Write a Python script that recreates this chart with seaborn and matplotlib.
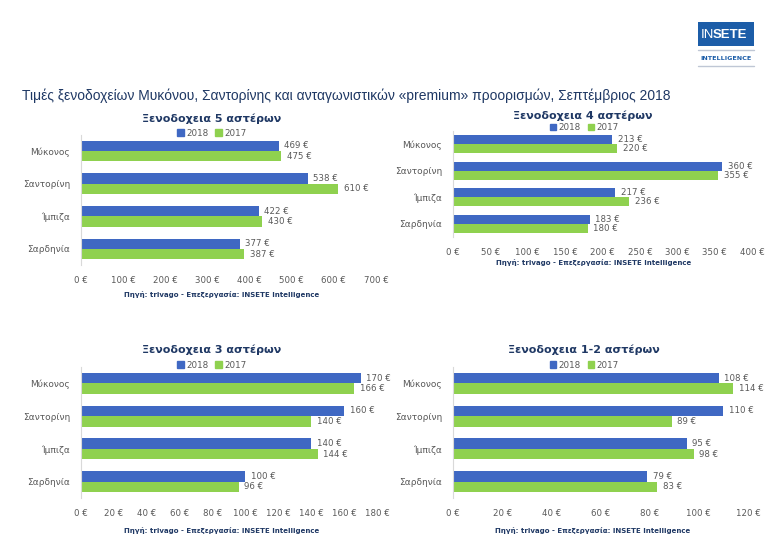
import matplotlib
matplotlib.use("Agg")
import matplotlib.pyplot as plt
import matplotlib.patches as mpatches
from matplotlib.lines import Line2D
from matplotlib.ticker import FuncFormatter
import seaborn as sns
import pandas as pd

sns.set_theme(style="white")
plt.rcParams['font.family'] = ['DejaVu Sans']

places = ["Μύκονος", "Σαντορίνη", "Ίμπιζα", "Σαρδηνία"]
years = ["2018", "2017"]

five_2018 = [469, 538, 422, 377]
five_2017 = [475, 610, 430, 387]
four_2018 = [213, 360, 217, 183]
four_2017 = [220, 355, 236, 180]
three_2018 = [170, 160, 140, 100]
three_2017 = [166, 140, 144, 96]
onetwo_2018 = [108, 110, 95, 79]
onetwo_2017 = [114, 89, 98, 83]

titles = ["Ξενοδοχεια 5 αστέρων", "Ξενοδοχεια 4 αστέρων",
          "Ξενοδοχεια 3 αστέρων", "Ξενοδοχεια 1-2 αστέρων"]
xticks_list = [list(range(0, 701, 100)), list(range(0, 401, 50)),
               list(range(0, 181, 20)), list(range(0, 121, 20))]
source = "Πηγή: trivago - Επεξεργασία: INSETE Intelligence"
main_title = "Τιμές ξενοδοχείων Μυκόνου, Σαντορίνης και ανταγωνιστικών «premium» προορισμών, Σεπτέμβριος 2018"

series = [(five_2018, five_2017), (four_2018, four_2017),
          (three_2018, three_2017), (onetwo_2018, onetwo_2017)]

W, H = 780, 558
BLUE = "#3F68C3"
GREEN = "#8FD14F"
NAVY = "#1F3864"
GRAY = "#595959"

fig = plt.figure(figsize=(7.8, 5.58), dpi=100)
fig.patch.set_facecolor("white")

def fx(px):
    return px / W

def fy(py):
    return 1 - py / H

# axes pixel boxes: left, right, top, bottom
boxes = [(81, 376, 134.7, 265.3), (453, 752, 130.7, 237.3),
         (81, 377, 367.0, 498.0), (453, 748, 367.0, 498.0)]
title_pos = [(212, 119), (583, 116), (212, 350), (584, 350)]
legend_pos = [(212, 133), (584, 128), (212, 365), (584, 365)]
source_pos = [(222, 295), (594, 263), (222, 530), (593, 530)]
widths = [0.64, 0.67, 0.64, 0.64]

for i in range(4):
    l, r, t, b = boxes[i]
    ax = fig.add_axes([fx(l), fy(b), fx(r - l), (b - t) / H])
    v18, v17 = series[i]
    df = pd.DataFrame({
        "place": places * 2,
        "year": ["2018"] * 4 + ["2017"] * 4,
        "price": list(v18) + list(v17),
    })
    sns.barplot(data=df, y="place", x="price", hue="year", hue_order=years,
                orient="h", palette=[BLUE, GREEN], width=widths[i],
                saturation=1, ax=ax, legend=False, errorbar=None,
                linewidth=0, edgecolor="none")
    for cont in ax.containers:
        vals = [int(round(bar.get_width())) for bar in cont]
        ax.bar_label(cont, labels=[f"{v} €" for v in vals], padding=4,
                     fontsize=6.2, color=GRAY)
    xt = xticks_list[i]
    ax.set_xlim(0, xt[-1])
    ax.set_xticks(xt)
    ax.xaxis.set_major_formatter(FuncFormatter(lambda v, p: f"{int(v)} €"))
    ax.set_xlabel("")
    ax.set_ylabel("")
    ax.tick_params(axis="x", labelsize=6.2, labelcolor=GRAY, length=0, pad=8)
    ax.tick_params(axis="y", labelsize=6.5, labelcolor=GRAY, length=0, pad=8)
    for s in ["top", "right", "bottom"]:
        ax.spines[s].set_visible(False)
    ax.spines["left"].set_color("#D9D9D9")
    ax.spines["left"].set_linewidth(0.8)
    ax.grid(False)
    ax.set_facecolor("white")

    tx, ty = title_pos[i]
    fig.text(fx(tx), fy(ty), titles[i], ha="center", va="center",
             fontsize=8, fontweight="bold", color=NAVY)
    lx, ly = legend_pos[i]
    handles = [mpatches.Patch(color=BLUE, label="2018"),
               mpatches.Patch(color=GREEN, label="2017")]
    fig.legend(handles=handles, loc="center", bbox_to_anchor=(fx(lx), fy(ly)),
               ncol=2, frameon=False, fontsize=6.3, labelcolor=GRAY,
               handlelength=0.7, handleheight=0.7, handletextpad=0.3,
               columnspacing=0.8, borderpad=0)
    sx, sy = source_pos[i]
    fig.text(fx(sx), fy(sy), source, ha="center", va="center",
             fontsize=5.0, fontweight="bold", color=NAVY)

fig.text(fx(22), fy(96), main_title, ha="left", va="center",
         fontsize=10.0, color=NAVY, family=["Liberation Sans", "DejaVu Sans"])

# logo
fig.add_artist(mpatches.Rectangle((fx(698), fy(46)), fx(56), 24 / H,
                                  transform=fig.transFigure,
                                  facecolor="#1C5DA8", edgecolor="none"))
fig.text(fx(714), fy(34.5), "IN", ha="right", va="center", fontsize=9.5,
         color="white", family=["Liberation Sans", "DejaVu Sans"])
fig.text(fx(712.5), fy(34.5), "SETE", ha="left", va="center", fontsize=9.5,
         color="white", fontweight="bold", family=["Liberation Sans", "DejaVu Sans"])
fig.add_artist(Line2D([fx(698), fx(754)], [fy(50), fy(50)],
                      transform=fig.transFigure, color="#BFC7D5", lw=1))
fig.add_artist(Line2D([fx(698), fx(754)], [fy(66), fy(66)],
                      transform=fig.transFigure, color="#BFC7D5", lw=1))
fig.text(fx(726), fy(58), "INTELLIGENCE", ha="center", va="center",
         fontsize=4.6, color="#1C5DA8", fontweight="bold")

fig.savefig("out.png", dpi=100, facecolor="white")
